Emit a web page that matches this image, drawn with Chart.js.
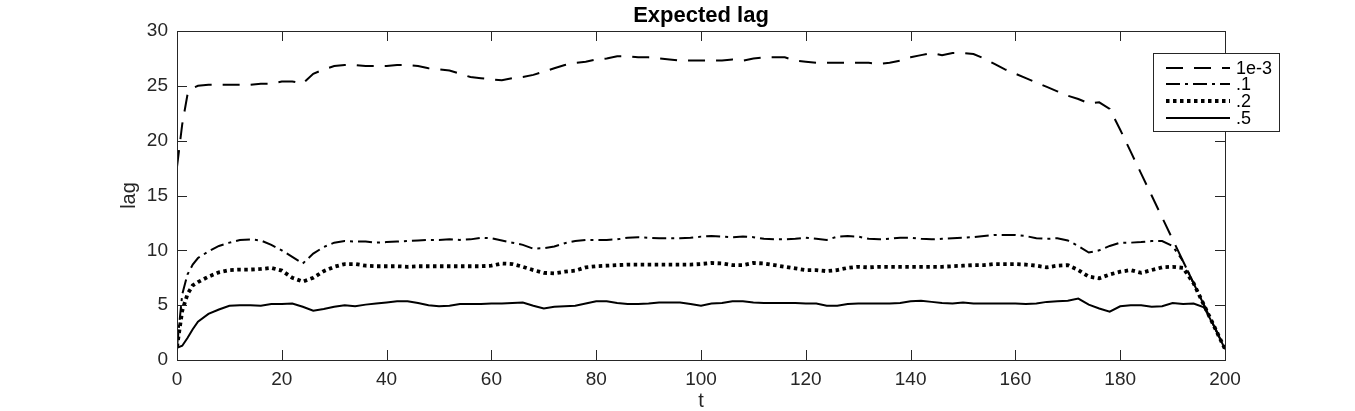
<!DOCTYPE html>
<html>
<head>
<meta charset="utf-8">
<script src="https://cdn.jsdelivr.net/npm/chart.js@4/dist/chart.umd.min.js"></script>
<style>
html,body{margin:0;padding:0;background:#fff;}
canvas{display:block;}
</style>
</head>
<body>
<canvas id="c" width="1355" height="411"></canvas>
<script>
// ---- data ----
const tValues = [0,1,2,3,4,6,8,10,12,14,16,18,20,22,24,26,28,30,32,34,36,38,40,42,44,46,48,50,52,54,56,58,60,62,64,66,68,70,72,74,76,78,80,82,84,86,88,90,92,94,96,98,100,102,104,106,108,110,112,114,116,118,120,122,124,126,128,130,132,134,136,138,140,142,144,146,148,150,152,154,156,158,160,162,164,166,168,170,172,174,176,178,180,182,184,186,188,190,192,194,196,198,200];

const lag1e3 = [17.6,21.5,24.2,24.8,25.0,25.1,25.1,25.1,25.1,25.1,25.2,25.2,25.4,25.4,25.2,26.1,26.5,26.8,26.9,26.9,26.8,26.8,26.8,26.9,26.9,26.8,26.6,26.5,26.4,26.1,25.8,25.7,25.6,25.5,25.7,25.8,26.0,26.3,26.6,26.9,27.1,27.2,27.4,27.5,27.7,27.7,27.6,27.6,27.5,27.4,27.3,27.3,27.3,27.3,27.3,27.4,27.3,27.5,27.6,27.6,27.6,27.3,27.2,27.1,27.1,27.1,27.1,27.1,27.1,27.0,27.1,27.3,27.6,27.8,28.0,27.8,28.0,28.0,27.9,27.5,27.0,26.5,26.1,25.7,25.3,24.9,24.5,24.1,23.8,23.4,23.5,22.9,21.0,19.0,17.0,15.0,13.0,11.0,9.0,7.0,5.0,3.0,1.0];

const lag01 = [1.2,6.0,7.8,8.7,9.3,9.9,10.4,10.7,10.95,11.0,10.9,10.5,10.0,9.4,8.8,9.7,10.3,10.7,10.85,10.8,10.8,10.7,10.75,10.8,10.85,10.9,10.95,10.95,11.0,10.95,11.0,11.15,11.1,10.9,10.7,10.5,10.15,10.2,10.35,10.65,10.85,10.95,10.95,10.95,11.0,11.15,11.2,11.15,11.1,11.1,11.1,11.15,11.25,11.3,11.25,11.2,11.25,11.2,11.05,11.0,11.0,11.05,11.15,11.05,10.95,11.25,11.3,11.25,11.05,11.0,11.05,11.15,11.15,11.05,11.0,11.05,11.1,11.15,11.2,11.3,11.4,11.4,11.4,11.3,11.1,11.05,11.1,10.9,10.4,9.8,10.0,10.4,10.7,10.7,10.75,10.85,10.85,10.4,9.0,7.0,5.0,3.0,1.0];

const lag02 = [1.2,4.5,6.0,6.8,7.1,7.6,8.0,8.2,8.25,8.25,8.3,8.4,8.15,7.5,7.15,7.5,8.1,8.5,8.75,8.75,8.6,8.55,8.55,8.55,8.5,8.55,8.55,8.55,8.55,8.55,8.55,8.55,8.6,8.8,8.75,8.5,8.2,7.95,7.9,8.05,8.15,8.45,8.55,8.6,8.65,8.7,8.7,8.7,8.7,8.7,8.7,8.7,8.75,8.85,8.8,8.65,8.65,8.85,8.8,8.65,8.5,8.35,8.2,8.2,8.1,8.2,8.4,8.5,8.45,8.5,8.5,8.5,8.5,8.5,8.5,8.5,8.55,8.6,8.65,8.65,8.75,8.75,8.75,8.7,8.6,8.45,8.6,8.65,8.2,7.6,7.45,7.8,8.05,8.2,7.95,8.2,8.45,8.5,8.4,7.0,5.0,3.0,1.0];

const lag05 = [1.1,1.3,2.0,2.8,3.5,4.2,4.6,4.95,5.0,5.0,4.95,5.1,5.1,5.15,4.85,4.5,4.65,4.85,5.0,4.9,5.05,5.15,5.25,5.35,5.35,5.2,5.0,4.9,4.95,5.1,5.1,5.1,5.15,5.15,5.2,5.25,4.95,4.7,4.85,4.9,4.95,5.15,5.35,5.35,5.2,5.1,5.1,5.15,5.25,5.25,5.25,5.1,4.95,5.15,5.2,5.35,5.35,5.25,5.2,5.2,5.2,5.2,5.15,5.15,4.95,4.95,5.1,5.15,5.15,5.15,5.15,5.2,5.35,5.4,5.3,5.2,5.15,5.25,5.15,5.15,5.15,5.15,5.15,5.1,5.15,5.3,5.35,5.4,5.6,5.05,4.7,4.4,4.9,5.0,5.0,4.85,4.9,5.2,5.1,5.15,4.8,3.0,1.0];

const seriesLabels = ['1e-3', '.1', '.2', '.5'];
const xTicks = [0,20,40,60,80,100,120,140,160,180,200];
const yTicks = [0,5,10,15,20,25,30];
const titleText = 'Expected lag';
const xTitle = 't';
const yTitle = 'lag';

// ---- chart ----
const FONT = '"Liberation Sans", Arial, Helvetica, sans-serif';
const AX = '#262626';

function pts(vals){ return tValues.map((t,i)=>({x:t,y:vals[i]})); }

const styles = [
  {borderDash:[17,11], borderWidth:2},
  {borderDash:[14,5,3,5], borderWidth:2},
  {borderDash:[3.5,3.5], borderWidth:3.8},
  {borderDash:[], borderWidth:2}
];
const seriesData = [lag1e3, lag01, lag02, lag05];

const datasets = seriesData.map((v,i)=>({
  label: seriesLabels[i],
  data: pts(v),
  borderColor:'#000',
  backgroundColor:'#000',
  borderWidth: styles[i].borderWidth,
  borderDash: styles[i].borderDash,
  borderCapStyle:'butt',
  pointRadius:0,
  tension:0,
  fill:false
}));

const framePlugin = {
  id:'frame',
  afterDraw(chart){
    const ctx = chart.ctx, a = chart.chartArea;
    const xs = chart.scales.x, ys = chart.scales.y;
    ctx.save();
    ctx.strokeStyle = AX; ctx.lineWidth = 1; ctx.setLineDash([]);
    ctx.strokeRect(a.left+0.5, a.top+0.5, a.right-a.left, a.bottom-a.top);
    ctx.beginPath();
    const L = 10;
    xTicks.forEach(v=>{
      const x = Math.round(xs.getPixelForValue(v))+0.5;
      ctx.moveTo(x,a.bottom); ctx.lineTo(x,a.bottom-L);
      ctx.moveTo(x,a.top); ctx.lineTo(x,a.top+L);
    });
    yTicks.forEach(v=>{
      const y = Math.round(ys.getPixelForValue(v))+0.5;
      ctx.moveTo(a.left,y); ctx.lineTo(a.left+L,y);
      ctx.moveTo(a.right,y); ctx.lineTo(a.right-L,y);
    });
    ctx.stroke();

    // title
    ctx.fillStyle = '#000';
    ctx.font = 'bold 22px ' + FONT;
    ctx.textAlign = 'center'; ctx.textBaseline = 'alphabetic';
    ctx.fillText(titleText, (a.left+a.right)/2, 22);
    // axis titles
    ctx.fillStyle = AX;
    ctx.font = '20px ' + FONT;
    ctx.fillText(xTitle, (a.left+a.right)/2, 407);
    ctx.save();
    ctx.translate(135, (a.top+a.bottom)/2);
    ctx.rotate(-Math.PI/2);
    ctx.fillText(yTitle, 0, 0);
    ctx.restore();

    // legend
    const bx = 1153, by = 53, bw = 126, bh = 78;
    ctx.fillStyle = '#fff';
    ctx.fillRect(bx, by, bw, bh);
    ctx.strokeStyle = AX; ctx.lineWidth = 1;
    ctx.strokeRect(bx+0.5, by+0.5, bw, bh);
    const rows = [68, 84, 101, 118];
    chart.data.datasets.forEach((ds,i)=>{
      ctx.save();
      ctx.strokeStyle = ds.borderColor;
      ctx.lineWidth = ds.borderWidth;
      ctx.setLineDash(ds.borderDash);
      ctx.lineCap = 'butt';
      ctx.beginPath();
      ctx.moveTo(1166, rows[i]); ctx.lineTo(1230, rows[i]);
      ctx.stroke();
      ctx.restore();
      ctx.fillStyle = '#000';
      ctx.font = '18px ' + FONT;
      ctx.textAlign = 'left'; ctx.textBaseline = 'middle';
      ctx.fillText(ds.label, 1236, rows[i]+1);
    });
    ctx.restore();
  }
};

new Chart(document.getElementById('c'), {
  type:'line',
  data:{datasets},
  options:{
    responsive:false,
    animation:false,
    devicePixelRatio:1,
    layout:{padding:{left:0,right:130,top:31,bottom:0}},
    plugins:{legend:{display:false}, title:{display:false}, tooltip:{enabled:false}},
    scales:{
      x:{
        type:'linear', min:0, max:200,
        grid:{display:false, drawTicks:false},
        border:{display:false},
        afterBuildTicks(s){ s.ticks = xTicks.map(v=>({value:v})); },
        ticks:{color:AX, font:{family:FONT, size:19}, padding:8, maxRotation:0, autoSkip:false},
        afterFit(s){ s.height = 51; }
      },
      y:{
        type:'linear', min:0, max:30,
        grid:{display:false, drawTicks:false},
        border:{display:false},
        afterBuildTicks(s){ s.ticks = yTicks.map(v=>({value:v})); },
        ticks:{color:AX, font:{family:FONT, size:19}, padding:9, autoSkip:false},
        afterFit(s){ s.width = 177; }
      }
    }
  },
  plugins:[framePlugin]
});
</script>
</body>
</html>
